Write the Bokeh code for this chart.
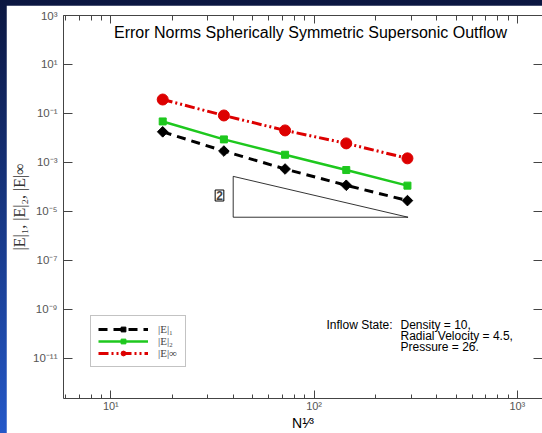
from bokeh.plotting import figure
from bokeh.models import (LogAxis, FixedTicker, CustomJSTickFormatter, Label,
                          Legend, LegendItem)
from bokeh.layouts import column
from bokeh.embed import file_html
from bokeh.resources import INLINE

# ---- data ----
n_cbrt = [18, 36, 72, 144, 288]
err_l1 = [0.0178, 0.00292, 5.4e-4, 1.17e-4, 2.77e-5]
err_l2 = [0.0472, 0.00873, 0.00206, 4.9e-4, 1.13e-4]
err_linf = [0.371, 0.0828, 0.0203, 0.0060, 0.00147]
slope_x = [40, 40, 290, 40]
slope_y = [2.7e-4, 5.8e-6, 5.8e-6, 2.7e-4]
x_major = [10, 100, 1000]
x_minor = [6, 7, 8, 9, 20, 30, 40, 50, 60, 70, 80, 90,
           200, 300, 400, 500, 600, 700, 800, 900]
y_major = [1e3, 1e1, 1e-1, 1e-3, 1e-5, 1e-7, 1e-9, 1e-11]
legend_labels = ["|E|₁", "|E|₂", "|E|∞"]
title_text = "Error Norms Spherically Symmetric Supersonic Outflow"
inflow_head = "Inflow State:"
inflow_lines = ["Density = 10,", "Radial Velocity = 4.5,", "Pressure = 26."]
x_label = "N¹⁄³"
y_label = "|E|₁, |E|₂, |E|∞"

SANS = "Liberation Sans"
SERIF = "Liberation Serif"
AX = "#444444"

fmt = CustomJSTickFormatter(code="""
const sup = {"-":"\u207b","0":"\u2070","1":"\u00b9","2":"\u00b2","3":"\u00b3",
             "4":"\u2074","5":"\u2075","6":"\u2076","7":"\u2077","8":"\u2078","9":"\u2079"};
const e = Math.round(Math.log10(tick));
return "10" + String(e).split("").map(c => sup[c]).join("");
""")
blank_fmt = CustomJSTickFormatter(code='return "";')

p = figure(width=536, height=428, x_axis_type="log", y_axis_type="log",
           x_range=(5.85, 1330), y_range=(2.3e-13, 1e3),
           output_backend="svg", toolbar_location=None,
           min_border_left=57, min_border_right=0, min_border_top=10,
           min_border_bottom=34, margin=(5, 0, 0, 6))
p.xgrid.visible = False
p.ygrid.visible = False
p.outline_line_color = None
p.background_fill_color = "white"
p.border_fill_color = "white"


def style_axis(ax, ticker, minor_len, major_len, labels=True):
    ax.ticker = ticker
    ax.major_tick_in = major_len
    ax.major_tick_out = 0
    ax.minor_tick_in = minor_len
    ax.minor_tick_out = 0
    ax.axis_line_color = AX
    ax.major_tick_line_color = AX
    ax.minor_tick_line_color = AX
    ax.major_label_text_font = SANS
    ax.major_label_text_color = "#555555"
    if labels:
        ax.formatter = fmt
        ax.major_label_text_font_size = "11.5px"
    else:
        ax.formatter = blank_fmt
        ax.major_label_text_font_size = "1px"
        ax.major_label_standoff = 0


xt = FixedTicker(ticks=x_major, minor_ticks=x_minor)
yt = FixedTicker(ticks=y_major, minor_ticks=[])

style_axis(p.xaxis[0], xt, 4, 8)
p.xaxis[0].major_label_text_font_size = "11px"
p.xaxis[0].major_label_standoff = 1
p.xaxis[0].axis_label = x_label
p.xaxis[0].axis_label_text_font = SANS
p.xaxis[0].axis_label_text_font_style = "normal"
p.xaxis[0].axis_label_text_font_size = "14px"
p.xaxis[0].axis_label_text_color = "black"
p.xaxis[0].axis_label_standoff = 0

style_axis(p.yaxis[0], yt, 0, 9)
p.yaxis[0].major_label_standoff = 6
p.yaxis[0].axis_label = y_label
p.yaxis[0].axis_label_text_font = SERIF
p.yaxis[0].axis_label_text_font_style = "normal"
p.yaxis[0].axis_label_text_font_size = "16px"
p.yaxis[0].axis_label_text_color = "#333333"
p.yaxis[0].axis_label_standoff = 2

top = LogAxis()
style_axis(top, FixedTicker(ticks=x_major, minor_ticks=x_minor), 5, 8, labels=False)
p.add_layout(top, "above")
right = LogAxis()
style_axis(right, FixedTicker(ticks=y_major, minor_ticks=[]), 0, 9, labels=False)
p.add_layout(right, "right")

# slope triangle
p.line(slope_x, slope_y, color="black", line_width=0.8)

# series
RED = "#dd0000"
GREEN = "#1ec81e"
l1_line = p.line(n_cbrt, err_l1, color="black", line_width=3, line_dash="9 6")
l1_pts = p.scatter(n_cbrt, err_l1, marker="square", angle=0.785398, size=7.5,
                   color="black")
l2_line = p.line(n_cbrt, err_l2, color=GREEN, line_width=2.5)
l2_pts = p.scatter(n_cbrt, err_l2, marker="square", size=7, color=GREEN)
li_line = p.line(n_cbrt, err_linf, color=RED, line_width=3, line_dash="10 3 2 3 2 3")
li_pts = p.scatter(n_cbrt, err_linf, marker="circle", size=11, color=RED)

legend = Legend(items=[
    LegendItem(label=legend_labels[0], renderers=[l1_line, l1_pts]),
    LegendItem(label=legend_labels[1], renderers=[l2_line, l2_pts]),
    LegendItem(label=legend_labels[2], renderers=[li_line, li_pts]),
], location=(27, 31), glyph_width=50, glyph_height=12, label_height=12,
    spacing=0, padding=7, margin=0, label_standoff=10,
    label_text_font=SERIF, label_text_font_size="11px",
    border_line_color="#888888", background_fill_color="white")
p.add_layout(legend)

# annotations (screen units relative to the frame)
p.add_layout(Label(x=247, y=366, x_units="screen", y_units="screen",
                   text=title_text, text_align="center", text_baseline="middle",
                   text_font=SANS, text_font_size="16px", text_color="black"))
p.add_layout(Label(x=263, y=74, x_units="screen", y_units="screen",
                   text=inflow_head, text_align="left", text_baseline="middle",
                   text_font=SANS, text_font_size="12px", text_color="black"))
for i, t in enumerate(inflow_lines):
    p.add_layout(Label(x=337, y=74 - 11 * i, x_units="screen", y_units="screen",
                       text=t, text_align="left", text_baseline="middle",
                       text_font=SANS, text_font_size="12px", text_color="black"))
p.add_layout(Label(x=156, y=203, x_units="screen", y_units="screen",
                   text="2", text_align="center", text_baseline="middle",
                   text_font=SANS, text_font_size="12px", text_font_style="bold",
                   border_line_color="black", background_fill_color="white",
                   padding=1))

layout = column(p, width=542, height=433,
                styles={"background": "linear-gradient(to bottom, #0b1640, #2458c8)"})

open("out.html", "w").write(file_html(layout, INLINE))
